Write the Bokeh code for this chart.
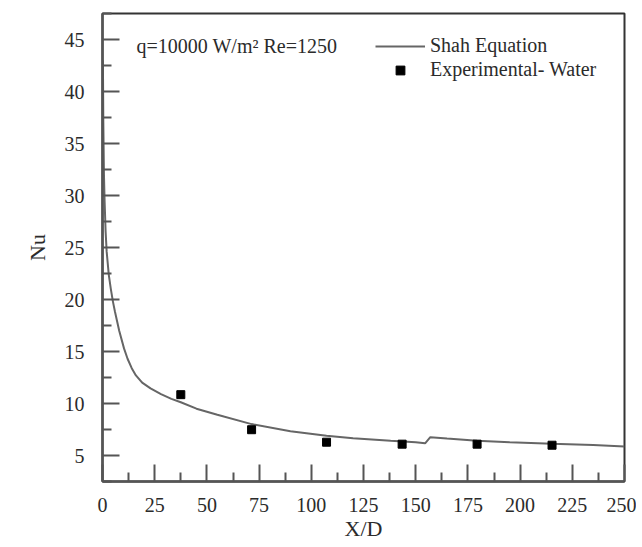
from bokeh.plotting import figure
from bokeh.models import FixedTicker, Range1d, Legend, LegendItem, Label
from bokeh.embed import file_html
from bokeh.resources import INLINE

# Shah equation curve
curve_x = [0.2, 0.4, 0.7, 1.0, 1.5, 2.0, 3.0, 4.0, 5.0, 6.0, 8.0, 10.3, 12.0, 14.0, 16.0,
           19.0, 23.0, 28.0, 33.0, 37.5, 45.0, 55.0, 71.4, 90.0, 107.3, 120.0, 138.0,
           150.0, 154.5, 157.0, 165.0, 179.4, 195.0, 215.3, 235.0, 250.0]
curve_nu = [43.0, 37.0, 32.0, 29.5, 26.5, 24.6, 22.4, 21.0, 19.8, 18.8, 17.0, 15.3, 14.3, 13.4, 12.7,
            12.0, 11.45, 10.9, 10.45, 10.12, 9.5, 8.92, 8.02, 7.33, 6.9, 6.66, 6.42,
            6.27, 6.17, 6.76, 6.64, 6.43, 6.28, 6.13, 6.0, 5.87]

# Experimental - water
exp_x = [37.5, 71.4, 107.3, 143.5, 179.4, 215.3]
exp_nu = [10.85, 7.48, 6.28, 6.09, 6.09, 5.99]

x_ticks = [0, 25, 50, 75, 100, 125, 150, 175, 200, 225, 250]
y_ticks = [5, 10, 15, 20, 25, 30, 35, 40, 45]

FONT = "Liberation Serif"
AX = "#555555"
TXT = "#2b2b2b"

p = figure(width=636, height=545, output_backend="svg", toolbar_location=None,
           x_range=Range1d(0, 250), y_range=Range1d(2.5, 47.5),
           min_border_left=102, min_border_right=12, min_border_top=13, min_border_bottom=64,
           background_fill_color="white", border_fill_color="white")
p.grid.visible = False
p.outline_line_color = "#333333"
p.outline_line_width = 2

x_minor = [t + 12.5 for t in x_ticks[:-1]]
y_minor = [2.5] + [t + 2.5 for t in y_ticks]
p.xaxis.ticker = FixedTicker(ticks=x_ticks, minor_ticks=x_minor)
p.yaxis.ticker = FixedTicker(ticks=y_ticks, minor_ticks=y_minor)

for ax in (p.xaxis, p.yaxis):
    ax.axis_line_color = AX
    ax.axis_line_width = 2.5
    ax.major_tick_line_color = AX
    ax.minor_tick_line_color = AX
    ax.major_tick_line_width = 2
    ax.minor_tick_line_width = 2
    ax.major_tick_in = 17
    ax.major_tick_out = 0
    ax.minor_tick_in = 9
    ax.minor_tick_out = 0
    ax.major_label_text_font = FONT
    ax.major_label_text_font_size = "20px"
    ax.major_label_text_color = TXT
    ax.axis_label_text_font = FONT
    ax.axis_label_text_font_size = "22px"
    ax.axis_label_text_font_style = "normal"
    ax.axis_label_text_color = TXT

p.xaxis.axis_label = "X/D"
p.yaxis.axis_label = "Nu"
p.xaxis.major_label_standoff = 16
p.xaxis.axis_label_standoff = 1
p.yaxis.major_label_standoff = 18
p.yaxis.axis_label_standoff = 12

line = p.line(curve_x, curve_nu, line_color="#666666", line_width=2)
pts = p.scatter(exp_x, exp_nu, marker="square", size=8, fill_color="black", line_color="black")

legend = Legend(items=[LegendItem(label="Shah Equation", renderers=[line]),
                       LegendItem(label="Experimental- Water", renderers=[pts])],
                location=(273, 400), orientation="vertical",
                glyph_width=50, glyph_height=22, label_height=22, spacing=1,
                label_standoff=5, padding=0, margin=0,
                border_line_alpha=0, background_fill_alpha=0,
                label_text_font=FONT, label_text_font_size="20px", label_text_color=TXT)
p.add_layout(legend)

p.add_layout(Label(x=16.3, y=44.4, text="q=10000 W/m\u00b2  Re=1250", text_baseline="middle",
                   text_font=FONT, text_font_size="20px", text_color=TXT))

open("out.html", "w").write(file_html(p, INLINE))
